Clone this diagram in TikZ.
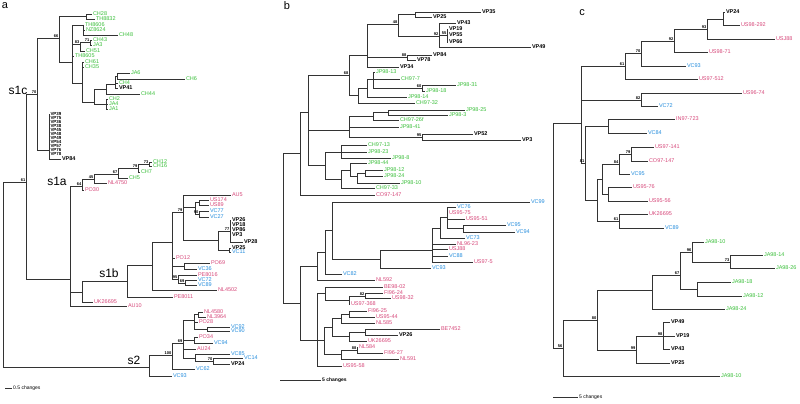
\documentclass[tikz,border=0pt]{standalone}
\usepackage{fontspec}
\setmainfont{Liberation Sans}
\usepackage{xcolor}
\usepackage{tikz}
\definecolor{tipgreen}{RGB}{58,190,58}
\definecolor{tippink}{RGB}{214,72,122}
\definecolor{tipblue}{RGB}{36,140,220}

\begin{document}
\begin{tikzpicture}[
  x=1pt, y=-1pt, font=\fontsize{5.5}{6}\selectfont,
  branch/.style={draw=black!80, line width=0.5pt},
  leaf/.style={anchor=west, inner sep=0.8pt},
  grn/.style={text=tipgreen},
  pnk/.style={text=tippink},
  blu/.style={text=tipblue},
  vp/.style={text=black, font=\fontsize{5.5}{6}\selectfont\bfseries},
  vpcol/.style={text=black, inner sep=0.3pt, font=\fontsize{4.4}{5}\selectfont\bfseries},
  boot/.style={anchor=south east, inner sep=0.5pt, font=\fontsize{4}{4}\selectfont\bfseries},
  grp/.style={font=\fontsize{12}{12}\selectfont, inner sep=0pt},
  panel/.style={font=\fontsize{11}{11}\selectfont, inner sep=0pt},
  scalebar/.style={anchor=west, inner sep=1pt, font=\fontsize{5}{5}\selectfont},
]
\useasboundingbox (0,0) rectangle (800,404);

% ---------------- panel a ----------------
\node[panel] (la) at (5,6) {a};
\foreach \n/\x/\y/\st/\lbl in {
  aCH28/92/14/grn/CH28, aTH8832/95/19/grn/TH8832, aTH8606/84/25/grn/TH8606,
  aNZ8624/85/30/grn/NZ8624, aCH48/118/35/grn/CH48, aCH43/92/40/grn/CH43,
  aJA3/92/45/grn/JA3, aCH51/85/51/grn/CH51, aTH8605/74/56/grn/TH8605,
  aCH61/84/62/grn/CH61, aCH35/84/67/grn/CH35, aJA6/130/73/grn/JA6,
  aCH6/185/79/grn/CH6, aCH4/118/83/grn/CH4, aVP41/118/88/vp/VP41,
  aCH44/140/94/grn/CH44, aCH2/108/99/grn/CH2, aJA4/108/104/grn/JA4,
  aJA1/108/109/grn/JA1,
  aVP39/50/114/vpcol/VP39, aVP75/50/118/vpcol/VP75, aVP36/50/122/vpcol/VP36,
  aVP38/50/126/vpcol/VP38, aVP45/50/130/vpcol/VP45, aVP48/50/134/vpcol/VP48,
  aVP49/50/138/vpcol/VP49, aVP54/50/142/vpcol/VP54, aVP57/50/146/vpcol/VP57,
  aVP76/50/150/vpcol/VP76, aVP78/50/154/vpcol/VP78, aVP84/61/159/vp/VP84,
  aCH12/152/162/grn/CH12, aCH16/152/166/grn/CH16, aCH7/140/172/grn/CH7,
  aCH5/128/178/grn/CH5, aNL4750/107/183/pnk/NL4750, aPO30/84/190/pnk/PO30,
  aAU5/231/195/pnk/AU5, aUS174/209/200/pnk/US174, aUS89/209/205/pnk/US89,
  aVC77/209/211/blu/VC77, aVC27/209/217/blu/VC27, aVP26/231/220/vp/VP26,
  aVP18/231/225/vp/VP18, aVP86/231/230/vp/VP86, aVP3/231/235/vp/VP3,
  aVP28/243/242/vp/VP28, aVP25/231/248/vp/VP25, aVC11/231/252/blu/VC11,
  aPO12/175/258/pnk/PO12, aPO69/210/263/pnk/PO69, aVC36/197/269/blu/VC36,
  aPE8016/197/275/pnk/PE8016, aVC72/197/280/blu/VC72, aVC89/197/285/blu/VC89,
  aNL4502/217/290/pnk/NL4502, aPE8011/173/297/pnk/PE8011,
  aUK26695/93/302/pnk/UK26695, aAU10/127/306/pnk/AU10,
  aNL4580/203/312/pnk/NL4580, aNL3964/206/317/pnk/NL3964, aPO28/198/322/pnk/PO28,
  aVC92/230/327/blu/VC92, aVC90/230/331/blu/VC90, aPO34/198/337/pnk/PO34,
  aVC94/213/343/blu/VC94, aAU24/196/349/pnk/AU24, aVC85/230/354/blu/VC85,
  aVC14/243/358/blu/VC14, aVP24/230/364/vp/VP24, aVC62/195/369/blu/VC62,
  aVC93/172/376/blu/VC93}
  \node[leaf,\st] (\n) at (\x,\y) {\lbl};

\foreach \n/\x/\y in {
  aA/86/16, aB/83/25, aC/90/42, aD/80/44, aE/117/76, aF/115/84, aG/106/89,
  aH/106/104, aI/94/102, aJ/82/83, aN1/72/62, a66/59/38, aV/49/150, a70/37/94,
  aK/149/164, aL/138/168, aM/118/174, aN/94/179, aO/82/186,
  aP1/199/202, aQ/199/214, aP/195/207, aS/230/231, aT/229/250, aR/218/240,
  a79/183/212, aQ2/184/266, a69/185/283, a95/178/279, aX/172/242, aY/152/265,
  aZ/127/281, a82/82/292, aS1/70/279, a61/26/182,
  aU1/198/314, aW/207/329, aU/194/320, aT2/194/340, a70b/213/361, aR2/195/358,
  a69s/183/343, a172/172/355, as2/149/367, ra/3/274}
  \coordinate (\n) at (\x,\y);

\foreach \pa/\ch in {
  aA/aCH28, aA/aTH8832, aB/aTH8606, aB/aNZ8624, aB/aCH48, aC/aCH43, aC/aJA3,
  aD/aC, aD/aCH51, aE/aJA6, aE/aCH6, aF/aE, aF/aCH4, aF/aVP41, aG/aF, aG/aCH44,
  aH/aCH2, aH/aJA4, aH/aJA1, aI/aG, aI/aH, aJ/aCH61, aJ/aCH35, aJ/aI,
  aN1/aB, aN1/aD, aN1/aTH8605, aN1/aJ, a66/aA, a66/aN1,
  aV/aVP39, aV/aVP75, aV/aVP36, aV/aVP38, aV/aVP45, aV/aVP48, aV/aVP49,
  aV/aVP54, aV/aVP57, aV/aVP76, aV/aVP78, aV/aVP84, a70/a66, a70/aV,
  aK/aCH12, aK/aCH16, aL/aK, aL/aCH7, aM/aL, aM/aCH5, aN/aM, aN/aNL4750,
  aO/aN, aO/aPO30,
  aP1/aUS174, aP1/aUS89, aQ/aVC77, aQ/aVC27, aP/aP1, aP/aQ,
  aS/aVP26, aS/aVP18, aS/aVP86, aS/aVP3, aS/aVP28, aT/aVP25, aT/aVC11,
  aR/aS, aR/aT, a79/aAU5, a79/aP, a79/aR,
  aQ2/aPO69, aQ2/aVC36, a69/aVC72, a69/aVC89, a95/aPE8016, a95/a69,
  aX/a79, aX/aPO12, aX/aQ2, aX/a95, aY/aX, aY/aNL4502, aZ/aY, aZ/aPE8011,
  a82/aZ, a82/aUK26695, aS1/aO, aS1/a82, aS1/aAU10, a61/a70, a61/aS1,
  aU1/aNL4580, aU1/aNL3964, aW/aVC92, aW/aVC90, aU/aU1, aU/aPO28, aU/aW,
  aT2/aPO34, aT2/aVC94, a70b/aVC14, a70b/aVP24, aR2/aVC85, aR2/a70b,
  a69s/aU, a69s/aT2, a69s/aAU24, a69s/aR2,
  a172/a69s, a172/aVC62, as2/a172, as2/aVC93, ra/a61, ra/as2}
  \draw[branch] (\pa) |- (\ch);

\foreach \n/\v in {a66/66, a70/70, aC/71, aD/83, a61/61, aO/64, aN/45, aM/67,
  aL/79, aK/73, a79/79, aQ/90, aS/77, a95/95, a69/69, a172/100, a69s/69, a70b/70}
  \node[boot] (bs\n) at (\n) {\v};

\node[grp] (s1c) at (18,90) {s1c};
\node[grp] (s1a) at (57,181) {s1a};
\node[grp] (s1b) at (109,273) {s1b};
\node[grp] (s2) at (134,360) {s2};

\coordinate (sa0) at (5,388);
\node[scalebar] (sa) at (12,388) {0.5 changes};
\draw[branch] (sa0) -- (sa);

% ---------------- panel b ----------------
\node[panel] (lb) at (287,6) {b};
\foreach \n/\x/\y/\st/\lbl in {
  bVP35/481/12/vp/VP35, bVP25/432/17/vp/VP25, bVP43/456/23/vp/VP43,
  bVP19/448/29/vp/VP19, bVP55/448/35/vp/VP55, bVP66/448/42/vp/VP66,
  bVP49/531/47/vp/VP49, bVP84/432/55/vp/VP84, bVP78/416/60/vp/VP78,
  bVP34/399/67/vp/VP34, bJP9813/375/72/grn/JP98-13, bCH977/400/79/grn/CH97-7,
  bJP9831/456/85/grn/JP98-31, bJP9818/425/91/grn/JP98-18,
  bJP9814/407/97/grn/JP98-14, bCH9732/415/103/grn/CH97-32,
  bJP9825/465/110/grn/JP98-25, bJP983/448/115/grn/JP98-3,
  bCH9726/399/120/grn/CH97-26f, bJP9841/399/127/grn/JP98-41,
  bVP52/473/134/vp/VP52, bVP3/521/140/vp/VP3,
  bCH9713/367/145/grn/CH97-13, bJP9823/367/152/grn/JP98-23,
  bJP988/391/158/grn/JP98-8, bJP9844/367/163/grn/JP98-44,
  bJP9812/383/170/grn/JP98-12, bJP9824/383/176/grn/JP98-24,
  bJP9810/400/183/grn/JP98-10, bCH9733/375/188/grn/CH97-33,
  bCO97147/375/195/pnk/CO97-147, bVC99/530/202/blu/VC99,
  bVC76/456/207/blu/VC76, bUS9575/448/213/pnk/US95-75, bUS9551/465/219/pnk/US95-51,
  bVC95/506/225/blu/VC95, bVC94/515/232/blu/VC94, bVC73/465/238/blu/VC73,
  bNL9623/456/244/pnk/NL96-23, bUSJ88/448/249/pnk/USJ88, bVC88/448/256/blu/VC88,
  bUS975/473/262/pnk/US97-5, bVC93/431/268/blu/VC93, bVC82/342/274/blu/VC82,
  bNL592/375/280/pnk/NL592, bBE9802/383/287/pnk/BE98-02,
  bFI9624/383/293/pnk/FI96-24, bUS9832/391/298/pnk/US98-32,
  bUS97368/350/304/pnk/US97-368, bFI9625/367/311/pnk/FI96-25,
  bUS9544/375/317/pnk/US95-44, bNL585/375/323/pnk/NL585,
  bBE7452/440/329/pnk/BE7452, bVP26/398/335/vp/VP26,
  bUK26695/367/341/pnk/UK26695, bNL584/358/347/pnk/NL584,
  bFI9627/383/353/pnk/FI96-27, bNL591/399/359/pnk/NL591,
  bUS9558/342/366/pnk/US95-58}
  \node[leaf,\st] (\n) at (\x,\y) {\lbl};

\foreach \n/\x/\y in {
  bA/415/14, bB/447/35, bC/439/36, bD/398/24, bE/407/57, bF/367/55,
  bG/422/88, bH/373/79, bI/367/88, bJ/358/95, b68/349/75,
  bK/388/112, bL/373/116, bM/422/137, bN/349/130,
  bO/341/152, bP/365/173, bQ/357/176, bR/350/170, bS/341/179, bT/325/165,
  bU/308/112, bV/300/153,
  bX/463/228, bY/447/217, bZ/440/228, bAA/432/250, bAB/380/259, bAC/332/230,
  bAD/325/252, bAE/317/266,
  bBA/365/296, bBB/349/300, bBC/325/293, bBD/349/314, bBE/341/318,
  bBF/365/332, bBG/349/336, bBH/332/327, bBI/357/350, bBJ/341/354,
  bBK/324/340, bBL/317/340, bAG/300/303, rb/283/228}
  \coordinate (\n) at (\x,\y);

\foreach \pa/\ch in {
  bA/bVP35, bA/bVP25, bB/bVP19, bB/bVP55, bB/bVP66, bC/bVP43, bC/bB, bC/bVP49,
  bD/bA, bD/bC, bE/bVP84, bE/bVP78, bF/bD, bF/bE, bF/bVP34,
  bG/bJP9831, bG/bJP9818, bH/bJP9813, bH/bCH977, bH/bG, bI/bH, bI/bJP9814,
  bJ/bI, bJ/bCH9732, b68/bF, b68/bJ,
  bK/bJP9825, bK/bJP983, bL/bK, bL/bCH9726, bM/bVP52, bM/bVP3,
  bN/bL, bN/bJP9841, bN/bM,
  bO/bCH9713, bO/bJP9823, bO/bJP988, bP/bJP9812, bP/bJP9824, bQ/bP, bQ/bJP9810,
  bR/bJP9844, bR/bQ, bS/bR, bS/bCH9733, bT/bO, bT/bS,
  bU/b68, bU/bN, bU/bT, bV/bU, bV/bCO97147,
  bX/bVC95, bX/bVC94, bY/bVC76, bY/bUS9575, bY/bUS9551, bY/bX, bZ/bY, bZ/bVC73,
  bAA/bZ, bAA/bNL9623, bAA/bUSJ88, bAA/bVC88, bAA/bUS975, bAB/bAA, bAB/bVC93,
  bAC/bVC99, bAC/bAB, bAD/bAC, bAD/bVC82, bAE/bAD, bAE/bNL592,
  bBA/bFI9624, bBA/bUS9832, bBB/bBA, bBB/bUS97368, bBC/bBE9802, bBC/bBB,
  bBD/bFI9625, bBD/bUS9544, bBE/bBD, bBE/bNL585, bBF/bBE7452, bBF/bVP26,
  bBG/bBF, bBG/bUK26695, bBH/bBE, bBH/bBG, bBI/bNL584, bBI/bFI9627,
  bBJ/bBI, bBJ/bNL591, bBK/bBH, bBK/bBJ, bBL/bBC, bBL/bBK, bBL/bUS9558,
  bAG/bAE, bAG/bBL, rb/bV, rb/bAG}
  \draw[branch] (\pa) |- (\ch);

\foreach \n/\v in {bD/48, bC/92, bB/55, bE/88, b68/68, bG/60, bM/95, bBA/82, bBI/88}
  \node[boot] (bs\n) at (\n) {\v};

\coordinate (sb0) at (280,380);
\node[scalebar, font=\fontsize{5}{5}\selectfont\bfseries] (sb) at (321,380) {5 changes};
\draw[branch] (sb0) -- (sb);

% ---------------- panel c ----------------
\node[panel] (lc) at (582,13) {c};
\foreach \n/\x/\y/\st/\lbl in {
  cVP24/725/12/vp/VP24, cUS98292/740/25/pnk/US98-292, cUSJ88/775/39/pnk/USJ88,
  cUS9871/708/52/pnk/US98-71, cVC93/686/66/blu/VC93, cUS97512/698/79/pnk/US97-512,
  cUS9674/742/93/pnk/US96-74, cVC72/658/106/blu/VC72, cIN97723/675/119/pnk/IN97-723,
  cVC84/647/133/blu/VC84, cUS97141/654/147/pnk/US97-141,
  cCO97147/648/161/pnk/CO97-147, cVC95/630/174/blu/VC95,
  cUS9576/632/187/pnk/US95-76, cUS9556/648/201/pnk/US95-56,
  cUK26695/648/214/pnk/UK26695, cVC89/664/228/blu/VC89,
  cJA9810/704/242/grn/JA98-10, cJA9814/763/255/grn/JA98-14,
  cJA9826/775/268/grn/JA98-26, cJA9818/731/282/grn/JA98-18,
  cJA9812/742/296/grn/JA98-12, cJA9824/725/309/grn/JA98-24,
  cVP49/670/322/vp/VP49, cVP19/675/336/vp/VP19, cVP43/670/349/vp/VP43,
  cVP25/670/363/vp/VP25, cJA9810b/720/376/grn/JA98-10}
  \node[leaf,\st] (\n) at (\x,\y) {\lbl};

\foreach \n/\x/\y in {
  cA/723/19, cB/707/29, cC/674/41, c70/641/53, c61/625/66, c82/641/100,
  cE/608/126, c79/631/154, c84/619/164, cF/608/194, cG/602/179, cH/619/221,
  cI/597/200, cJ/585/163, cK/581/123,
  c73/730/262, c96/692/252, c18/697/289, c67/680/275, c67b/652/290,
  c98/663/336, c99/636/350, c80/597/320, c56/563/348, rc/553/235}
  \coordinate (\n) at (\x,\y);

\foreach \pa/\ch in {
  cA/cVP24, cA/cUS98292, cB/cA, cB/cUSJ88, cC/cB, cC/cUS9871, c70/cC, c70/cVC93,
  c61/c70, c61/cUS97512, c82/cUS9674, c82/cVC72, cE/cIN97723, cE/cVC84,
  c79/cUS97141, c79/cCO97147, c84/c79, c84/cVC95, cF/cUS9576, cF/cUS9556,
  cG/c84, cG/cF, cH/cUK26695, cH/cVC89, cI/cG, cI/cH, cJ/cE, cJ/cI,
  cK/c61, cK/c82, cK/cJ,
  c73/cJA9814, c73/cJA9826, c96/cJA9810, c96/c73, c18/cJA9818, c18/cJA9812,
  c67/c96, c67/c18, c67b/c67, c67b/cJA9824, c98/cVP49, c98/cVP19, c98/cVP43,
  c99/c98, c99/cVP25, c80/c67b, c80/c99, c56/c80, c56/cJA9810b, rc/cK, rc/c56}
  \draw[branch] (\pa) |- (\ch);

\foreach \n/\v in {cB/93, cC/92, c70/70, c61/61, c82/82, c79/79, c84/84, cH/61,
  cJ/81, c96/96, c73/73, c67/67, c98/98, c99/99, c80/80, c56/56}
  \node[boot] (bs\n) at (\n) {\v};

\coordinate (sc0) at (553,397);
\node[scalebar] (sc) at (578,397) {5 changes};
\draw[branch] (sc0) -- (sc);
\end{tikzpicture}
\end{document}
